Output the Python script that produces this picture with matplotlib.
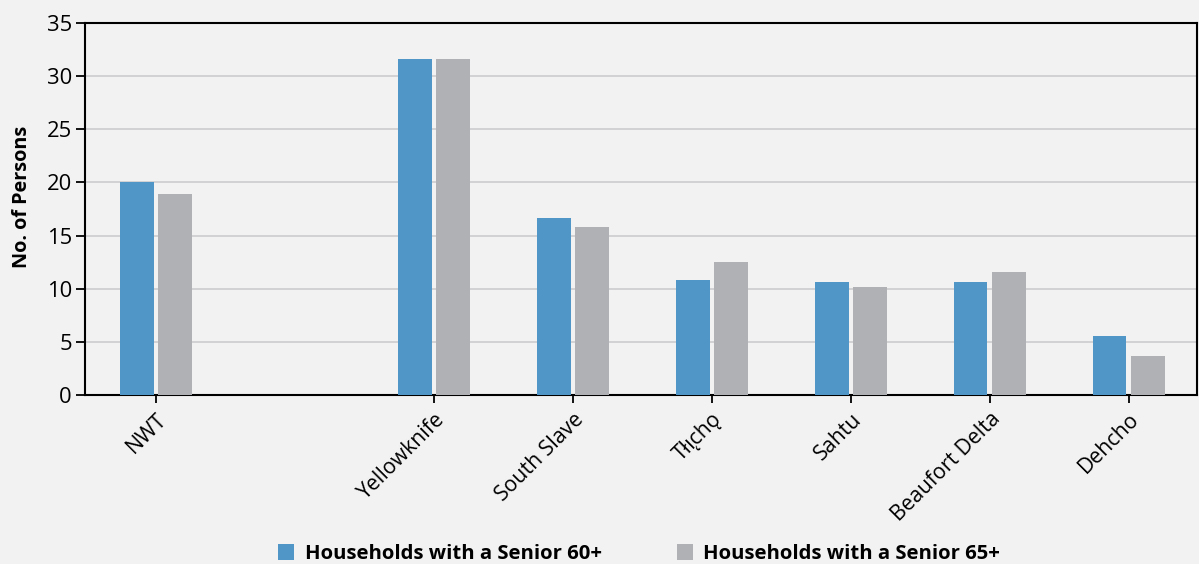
import matplotlib
matplotlib.use("Agg")
import matplotlib.pyplot as plt
from matplotlib.patches import Patch
import numpy as np

plt.rcParams['font.family'] = ['Open Sans', 'DejaVu Sans']

regions = ["NWT", "Yellowknife", "South Slave", "Tłı̨chǫ", "Sahtu", "Beaufort Delta", "Dehcho"]
# slot positions; a blank slot separates the territory total from the regions
slots = [0, 2, 3, 4, 5, 6, 7]
senior60 = [20.0, 31.6, 16.7, 10.8, 10.6, 10.6, 5.6]
senior65 = [18.9, 31.6, 15.8, 12.5, 10.2, 11.6, 3.7]
series_names = ["Households with a Senior 60+", "Households with a Senior 65+"]
yticks = [0, 5, 10, 15, 20, 25, 30, 35]

blue = "#5096c6"
grey = "#b0b1b4"
bg = "#f2f2f3"

fig = plt.figure(figsize=(11.99, 5.64), dpi=100, facecolor=bg)
ax = fig.add_axes([0.0709, 0.2996, 0.9274, 0.6596])
ax.set_facecolor(bg)

x = np.array(slots, dtype=float)
w = 0.24
ax.bar(x - 0.137, senior60, width=w, color=blue, zorder=3)
ax.bar(x + 0.137, senior65, width=w, color=grey, zorder=3)

ax.set_xlim(-0.51, 7.49)
ax.set_ylim(0, 35)
ax.set_yticks(yticks)
ax.set_xticks(x)
ax.set_xticklabels(regions, rotation=45, ha='right', rotation_mode='anchor', fontsize=15.3)
ax.tick_params(axis='y', labelsize=15.8, length=6.5, width=1.3, pad=3)
ax.tick_params(axis='x', length=6, width=1.3, pad=4)

ax.yaxis.grid(True, color="#d2d2d4", linewidth=1.4, zorder=0)
ax.set_axisbelow(True)
for s in ax.spines.values():
    s.set_color("black")
    s.set_linewidth(1.5)

ax.set_ylabel("No. of Persons", fontsize=14.3, fontweight='bold')
ax.yaxis.set_label_coords(-0.048, 0.532)

handles = [Patch(facecolor=blue), Patch(facecolor=grey)]
fig.legend(handles, series_names, loc='center', bbox_to_anchor=(0.533, 0.018),
           ncol=2, frameon=False, prop={'size': 14.6, 'weight': 'bold'},
           handlelength=0.8, handleheight=0.8, handletextpad=0.5, columnspacing=3.7)

fig.savefig("out.png", dpi=100, facecolor=bg)
